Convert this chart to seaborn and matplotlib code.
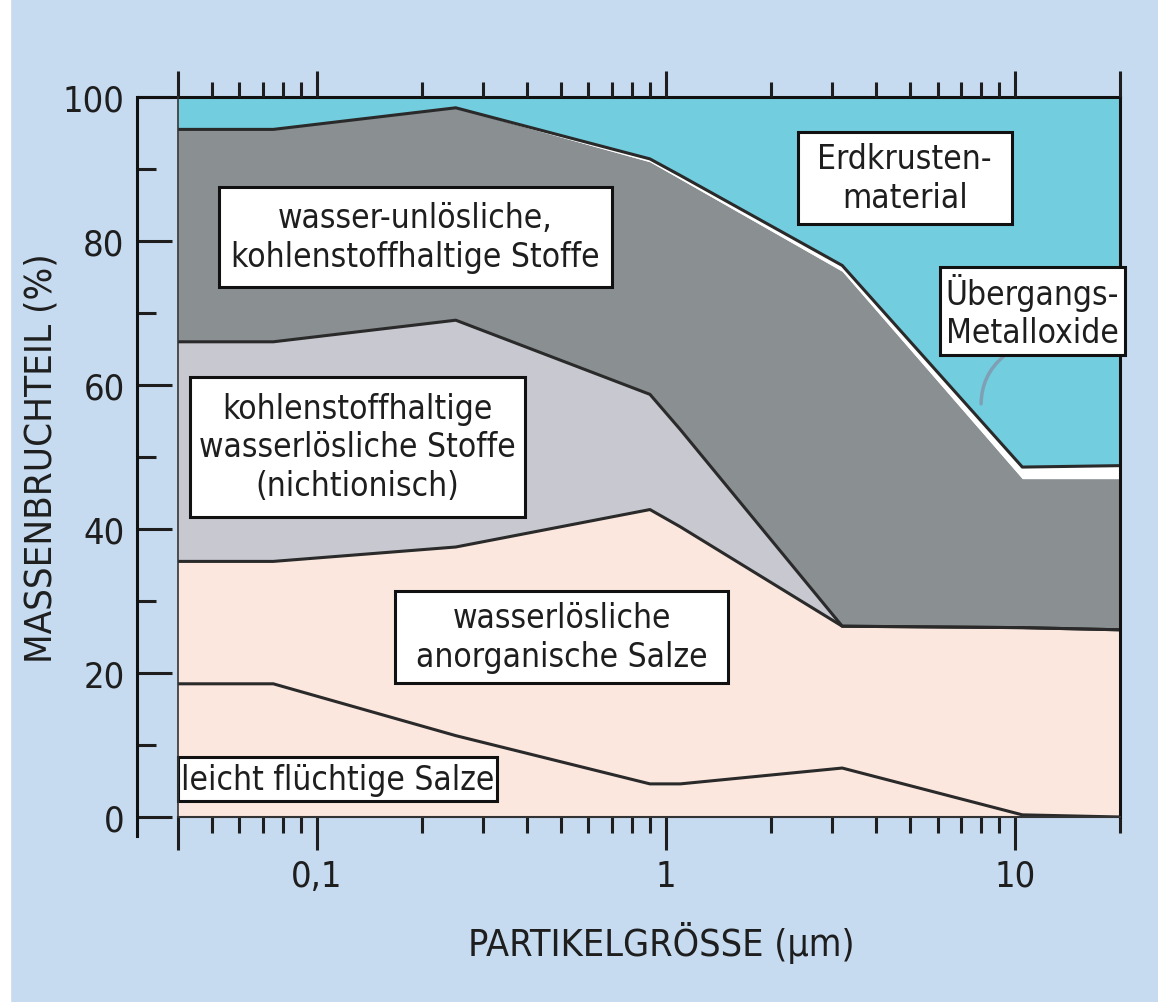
import os
import numpy as np
import pandas as pd
import matplotlib.pyplot as plt
import seaborn as sns
from matplotlib import font_manager
from matplotlib.patches import Rectangle
from matplotlib.ticker import LogLocator, FixedLocator, FixedFormatter, MultipleLocator, NullFormatter

# Partikelgröße (µm) und kumulierte Obergrenzen der Schichten (%)
groesse = [0.04, 0.075, 0.25, 0.9, 1.1, 3.2, 10.5, 20]
fluechtig = [18.5, 18.5, 11.3, 4.6, 4.6, 6.8, 0.3, 0.0]
anorganisch = [35.5, 35.5, 37.5, 42.7, 40.3, 26.5, 26.3, 26.0]
wasserloeslich = [66.0, 66.0, 69.0, 58.7, 53.8, 26.5, 26.3, 26.0]
unloeslich = [95.5, 95.5, 98.5, 91.0, 88.6, 75.8, 47.0, 47.0]
metalloxide = [95.5, 95.5, 98.5, 91.4, 89.1, 76.6, 48.6, 48.8]

x_ticks = [0.04, 0.1, 1, 10]
x_ticklabels = ['', '0,1', '1', '10']
y_ticks = [0, 20, 40, 60, 80, 100]

labels = ['wasser-unlösliche,\nkohlenstoffhaltige Stoffe',
          'Erdkrusten-\nmaterial',
          'Übergangs-\nMetalloxide',
          'kohlenstoffhaltige\nwasserlösliche Stoffe\n(nichtionisch)',
          'wasserlösliche\nanorganische Salze',
          'leicht flüchtige Salze']
# boxes in axes fraction: x0, y0, w, h
boxes = [(0.0435, 0.736, 0.4172, 0.139),
         (0.658, 0.8236, 0.227, 0.128),
         (0.809, 0.6417, 0.1964, 0.1222),
         (0.0127, 0.4167, 0.3556, 0.1944),
         (0.2304, 0.1861, 0.3535, 0.1278),
         (0.0, 0.0222, 0.3386, 0.0611)]

bg = '#c6daf0'
c_peach = '#fbe7de'
c_light = '#c8c9d0'
c_dark = '#8a8f92'
c_white = '#ffffff'
c_cyan = '#72cdde'
ink = '#1e1e1e'

sns.set_theme(style='ticks')

# schmale Schrift suchen (Univers Condensed-ähnlich)
prefs = ['LiberationSansNarrow-Regular', 'DejaVuSansCondensed.', 'RobotoCondensed-Regular',
         'Roboto_Condensed-Regular', 'OpenSans_Condensed-Regular', 'OpenSansCondensed-Regular',
         'NotoSans-Condensed.', 'NotoSansCondensed-Regular']
chosen = None
for key in prefs:
    for f in font_manager.fontManager.ttflist:
        if os.path.basename(f.fname).startswith(key):
            chosen = f
            break
    if chosen is not None:
        break
if chosen is not None:
    plt.rcParams['font.family'] = [chosen.name, 'DejaVu Sans']
    plt.rcParams['font.stretch'] = chosen.stretch
    k = 1.0
else:
    plt.rcParams['font.family'] = ['DejaVu Sans']
    k = 0.8
plt.rcParams['text.color'] = ink
plt.rcParams['axes.labelcolor'] = ink
plt.rcParams['xtick.color'] = ink
plt.rcParams['ytick.color'] = ink

df = pd.DataFrame({'groesse': groesse, 'fluechtig': fluechtig, 'anorganisch': anorganisch,
                   'wasserloeslich': wasserloeslich, 'unloeslich': unloeslich,
                   'metalloxide': metalloxide})

fig = plt.figure(figsize=(11.58, 10.03), dpi=100, facecolor=bg)
fig.patches.append(Rectangle((0, 0), 10 / 1158, 1, transform=fig.transFigure,
                             color='white', zorder=0))
ax = fig.add_axes([178 / 1158, 1 - 818 / 1003, 942 / 1158, 720 / 1003])
ax.set_xscale('log')

zero = np.zeros(len(df))
ax.fill_between(df.groesse, zero, df.fluechtig, color=c_peach, lw=0, zorder=1)
ax.fill_between(df.groesse, df.fluechtig, df.anorganisch, color=c_peach, lw=0, zorder=1)
ax.fill_between(df.groesse, df.anorganisch, df.wasserloeslich, color=c_light, lw=0, zorder=1)
ax.fill_between(df.groesse, df.wasserloeslich, df.unloeslich, color=c_dark, lw=0, zorder=1)
ax.fill_between(df.groesse, df.unloeslich, df.metalloxide, color=c_white, lw=0, zorder=1)
ax.fill_between(df.groesse, df.metalloxide, 100, color=c_cyan, lw=0, zorder=1)

for col in ['fluechtig', 'anorganisch', 'wasserloeslich', 'metalloxide']:
    sns.lineplot(data=df, x='groesse', y=col, ax=ax, color='#2a2a2a', lw=2.2,
                 estimator=None, sort=False, zorder=2)

# Übergangs-Metalloxide Zeiger
ax.annotate('', xy=(8.0, 57.0), xytext=(9.4, 64.2),
            arrowprops=dict(arrowstyle='-', color='#7f9fb5', lw=2.5,
                            connectionstyle='arc3,rad=0.25'), zorder=2)

for (x0, y0, w, h), txt in zip(boxes, labels):
    ax.add_patch(Rectangle((x0, y0), w, h, transform=ax.transAxes, fc='white',
                           ec='#111111', lw=2.2, zorder=3, clip_on=False))
    ax.text(x0 + w / 2, y0 + h / 2, txt, transform=ax.transAxes, ha='center',
            va='center', fontsize=24 * k, linespacing=1.2, zorder=4)

ax.set_xlim(0.04, 20)
ax.set_ylim(0, 100)

ax.xaxis.set_major_locator(FixedLocator(x_ticks))
ax.xaxis.set_major_formatter(FixedFormatter(x_ticklabels))
ax.xaxis.set_minor_locator(LogLocator(base=10, subs=np.arange(2, 10)))
ax.xaxis.set_minor_formatter(NullFormatter())
ax.yaxis.set_major_locator(FixedLocator(y_ticks))
ax.yaxis.set_minor_locator(MultipleLocator(10))

ax.tick_params(axis='x', which='major', direction='out', length=24, width=2.2,
               labelsize=26 * k, pad=6)
ax.tick_params(axis='x', which='minor', direction='out', length=11.5, width=2.2)
ax.tick_params(axis='y', which='major', direction='in', length=25, width=2.2,
               labelsize=26 * k, pad=9)
ax.tick_params(axis='y', which='minor', direction='in', length=14, width=2.2)

ax.spines['left'].set_position(('outward', 29.5))
ax.spines['left'].set_bounds(-2.6, 100)
for s in ['left', 'top', 'right']:
    ax.spines[s].set_linewidth(2.2)
    ax.spines[s].set_color('#111111')
ax.spines['bottom'].set_linewidth(1.5)
ax.spines['bottom'].set_color('#333333')
ax.axhline(100, xmin=-41 / 942, xmax=0, color='#111111', lw=2.2, clip_on=False)

# obere Achse
ax2 = ax.twiny()
ax2.set_xscale('log')
ax2.set_xlim(0.04, 20)
ax2.xaxis.set_major_locator(FixedLocator([0.04, 0.1, 1, 10, 20]))
ax2.xaxis.set_major_formatter(NullFormatter())
ax2.xaxis.set_minor_locator(LogLocator(base=10, subs=np.arange(2, 10)))
ax2.xaxis.set_minor_formatter(NullFormatter())
ax2.tick_params(axis='x', which='major', direction='out', length=19, width=2.2)
ax2.tick_params(axis='x', which='minor', direction='out', length=11, width=2.2)
ax2.spines['left'].set_linewidth(1.2)
ax2.spines['left'].set_color('#333333')
for s in ['top', 'right', 'bottom']:
    ax2.spines[s].set_visible(False)

ax.set_xlabel('PARTIKELGRÖSSE (µm)', fontsize=27 * k)
ax.set_ylabel('MASSENBRUCHTEIL (%)', fontsize=27.5 * k)
ax.xaxis.set_label_coords(0.513, -0.144)
ax.yaxis.set_label_coords(-0.126, 0.5)

fig.savefig('out.png', dpi=100, facecolor=bg)
